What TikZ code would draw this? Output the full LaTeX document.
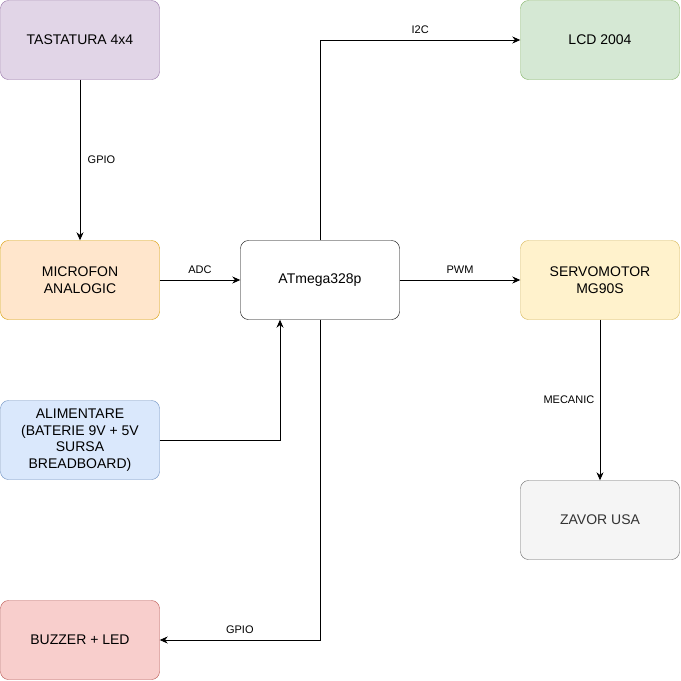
\documentclass[tikz,border=0pt]{standalone}
\usepackage{fontspec}
\setmainfont{Liberation Sans}
\usetikzlibrary{positioning}
\usetikzlibrary{arrows.meta}
\definecolor{purpleF}{HTML}{E1D5E7}\definecolor{purpleD}{HTML}{9673A6}
\definecolor{orangeF}{HTML}{FFE6CC}\definecolor{orangeD}{HTML}{D79B00}
\definecolor{blueF}{HTML}{DAE8FC}\definecolor{blueD}{HTML}{6C8EBF}
\definecolor{redF}{HTML}{F8CECC}\definecolor{redD}{HTML}{B85450}
\definecolor{greenF}{HTML}{D5E8D4}\definecolor{greenD}{HTML}{82B366}
\definecolor{yellowF}{HTML}{FFF2CC}\definecolor{yellowD}{HTML}{D6B656}
\definecolor{grayF}{HTML}{F5F5F5}\definecolor{grayD}{HTML}{666666}
\definecolor{grayT}{HTML}{333333}

\begin{document}
\begin{tikzpicture}[x=1pt, y=-1pt,
		% Style definitions
		block/.style={draw, rounded corners=8pt, minimum width=159pt, minimum height=79pt, align=center, font=\fontsize{14}{16.5}\selectfont, inner sep=2pt},
		lbl/.style={font=\fontsize{11}{13}\selectfont},
		arrow/.style={-{Stealth[length=8pt, width=7pt]}, line width=0.8pt},
		]
		\useasboundingbox (0,0) rectangle (681,681);

		% Left column
		\node[block, fill=purpleF, draw=purpleD] (keys) at (80,40) {TASTATURA 4x4};
		\node[block, fill=orangeF, draw=orangeD] (mic) at (80,280) {MICROFON\\ANALOGIC};
		\node[block, fill=blueF, draw=blueD] (power) at (80,440) {ALIMENTARE\\(BATERIE 9V + 5V\\SURSA\\BREADBOARD)};
		\node[block, fill=redF, draw=redD] (buzz) at (80,640) {BUZZER + LED};

		% Middle
		\node[block, fill=white, draw=black] (mcu) at (320,280) {ATmega328p};

		% Right column
		\node[block, fill=greenF, draw=greenD] (lcd) at (600,40) {LCD 2004};
		\node[block, fill=yellowF, draw=yellowD] (servo) at (600,280) {SERVOMOTOR\\MG90S};
		\node[block, fill=grayF, draw=grayD, text=grayT] (lock) at (600,520) {ZAVOR USA};

		% Connectors
		\draw[arrow] (keys) -- node[lbl, right=4pt] {GPIO} (mic);
		\draw[arrow] (mic) -- node[lbl, above=3pt] {ADC} (mcu);
		\draw[arrow] (power.east) -| ([xshift=-40pt]mcu.south);
		\draw[arrow] (mcu.north) |- node[lbl, above=3pt, pos=0.75] {I2C} (lcd.west);
		\draw[arrow] (mcu) -- node[lbl, above=3pt] {PWM} (servo);
		\draw[arrow] (servo) -- node[lbl, left=2pt] {MECANIC} (lock);
		\draw[arrow] (mcu.south) |- node[lbl, above=3pt, pos=0.75] {GPIO} (buzz.east);
	\end{tikzpicture}
\end{document}
